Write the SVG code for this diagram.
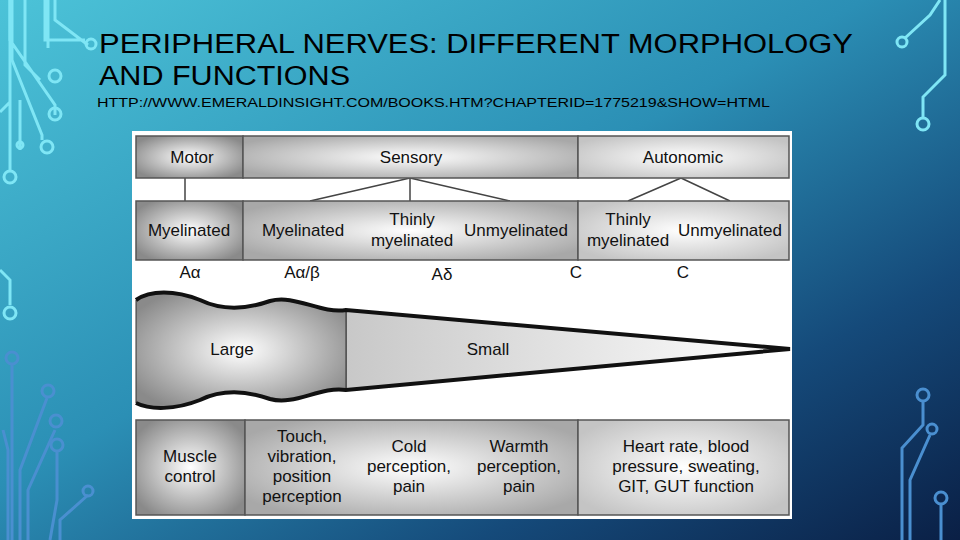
<svg xmlns="http://www.w3.org/2000/svg" width="960" height="540" viewBox="0 0 960 540">
<defs>
<linearGradient id="bg" x1="0" y1="0" x2="1" y2="1">
<stop offset="0" stop-color="#4cc3d8"/><stop offset="0.45" stop-color="#2b8fb5"/><stop offset="0.75" stop-color="#154a7a"/><stop offset="1" stop-color="#0a1f45"/>
</linearGradient>
<radialGradient id="g1" cx="0.5" cy="0.5" r="0.6"><stop offset="0" stop-color="#ffffff"/><stop offset="1" stop-color="#8a8a8a"/></radialGradient>
<radialGradient id="g2" cx="0.5" cy="0.5" r="0.6"><stop offset="0" stop-color="#ffffff"/><stop offset="1" stop-color="#a8a8a8"/></radialGradient>
<radialGradient id="g3" cx="0.5" cy="0.5" r="0.6"><stop offset="0" stop-color="#ffffff"/><stop offset="1" stop-color="#c4c4c4"/></radialGradient>
<linearGradient id="gs" x1="0" y1="0" x2="1" y2="0"><stop offset="0" stop-color="#c8c8c8"/><stop offset="1" stop-color="#ffffff"/></linearGradient>
</defs>
<style>
.t{font-family:"Liberation Sans",Arial,sans-serif;fill:#111;text-anchor:middle;font-size:17px}
.h{font-family:"Liberation Sans",Arial,sans-serif;fill:#000}
.box{stroke:#555;stroke-width:1.5}
.c{fill:none;stroke:#7fe6f5;stroke-width:3}
.d{fill:none;stroke:#4a8fd0;stroke-width:3}
.ln{stroke:#444;stroke-width:1.5;fill:none}
</style>
<rect width="960" height="540" fill="url(#bg)"/>
<g id="circuits">
<path class="c" d="M45 0 V40 L85 40 M55 0 V20 L88 45 M48 0 V48 M10 0 V40 L55 105 V115 M25 0 V65 L40 80 M20 100 V150 M12 0 V60 L42 135 V140"/>
<circle class="c" cx="91" cy="44" r="5"/><circle class="c" cx="55" cy="76" r="6"/><circle class="c" cx="55" cy="114" r="6"/><circle class="c" cx="47" cy="147" r="6"/><circle class="c" cx="20" cy="145" r="3"/><circle class="c" cx="10" cy="177" r="6"/>
<path class="c" d="M0 112 L10 102 M10 0 V170"/>
<path class="c" d="M0 270 L10 280 V305"/><circle class="c" cx="10" cy="313" r="6"/>
<path class="d" d="M12 365 V540 M3 430 L8 450 V540 M47 398 L20 470 V540 M55 430 L28 490 V540 M57 452 V500 L50 540 M88 495 L60 520 V540"/>
<circle class="d" cx="12" cy="358" r="6"/><circle class="d" cx="48" cy="391" r="6"/><circle class="d" cx="56" cy="421" r="6"/><circle class="d" cx="57" cy="445" r="6"/><circle class="d" cx="88" cy="491" r="5"/>
<path class="c" d="M940 0 L930 15 L905 38 M945 0 V75 L923 97 V118"/><circle class="c" cx="902" cy="42" r="5"/><circle class="c" cx="923" cy="124" r="6"/>
<path class="d" d="M923 402 V425 L902 448 V540 M930 435 L910 480 V540 M941 505 V540"/><circle class="d" cx="923" cy="395" r="6"/><circle class="d" cx="932" cy="429" r="5"/><circle class="d" cx="941" cy="498" r="6"/>
</g>
<g id="title">
<text class="h" x="99" y="53" font-size="27" textLength="754" lengthAdjust="spacingAndGlyphs">PERIPHERAL NERVES: DIFFERENT MORPHOLOGY</text>
<text class="h" x="99" y="85" font-size="27" textLength="251" lengthAdjust="spacingAndGlyphs">AND FUNCTIONS</text>
<text class="h" x="97" y="107" font-size="13.5" textLength="673" lengthAdjust="spacingAndGlyphs">HTTP://WWW.EMERALDINSIGHT.COM/BOOKS.HTM?CHAPTERID=1775219&amp;SHOW=HTML</text>
</g>
<rect x="132" y="131" width="660" height="388" fill="#ffffff"/>
<g id="connectors">
<path class="ln" d="M185 178 V201 M410 178 L310 201 M410 178 V201 M410 178 L510 201 M681 178 L628 201 M681 178 L730 201"/>
</g>
<g id="motor"><rect class="box" x="136" y="136" width="107" height="42" fill="url(#g1)"/><text class="t" x="192" y="163">Motor</text></g>
<g id="sensory"><rect class="box" x="243" y="136" width="335" height="42" fill="url(#g2)"/><text class="t" x="411" y="163">Sensory</text></g>
<g id="autonomic"><rect class="box" x="578" y="136" width="211" height="42" fill="url(#g3)"/><text class="t" x="683" y="163">Autonomic</text></g>
<g id="row2-motor"><rect class="box" x="136" y="201" width="107" height="59" fill="url(#g1)"/><text class="t" x="189" y="236">Myelinated</text></g>
<g id="row2-sensory"><rect class="box" x="243" y="201" width="335" height="59" fill="url(#g2)"/>
<text class="t" x="303" y="236">Myelinated</text><text class="t" x="412" y="225">Thinly</text><text class="t" x="412" y="246">myelinated</text><text class="t" x="516" y="236">Unmyelinated</text></g>
<g id="row2-autonomic"><rect class="box" x="578" y="201" width="211" height="59" fill="url(#g3)"/>
<text class="t" x="628" y="225">Thinly</text><text class="t" x="628" y="246">myelinated</text><text class="t" x="730" y="236">Unmyelinated</text></g>
<g id="fibres">
<text class="t" x="190" y="278">Aα</text><text class="t" x="302" y="278">Aα/β</text><text class="t" x="442" y="280">Aδ</text><text class="t" x="576" y="278">C</text><text class="t" x="683" y="278">C</text>
</g>
<g id="nerve">
<path d="M346 310 L790 349 L346 390 Z" fill="url(#gs)" stroke="#333" stroke-width="1"/>
<path d="M136 300 C150 290 175 290 200 300 C225 312 250 308 270 301 C295 294 320 314 346 310 V390 C320 386 295 406 270 399 C250 392 225 388 200 400 C175 410 150 410 136 403 Z" fill="url(#g1)" stroke="#333" stroke-width="1"/>
<path d="M136 300 C150 290 175 290 200 300 C225 312 250 308 270 301 C295 294 320 314 346 310 L790 349 L346 390 C320 386 295 406 270 399 C250 392 225 388 200 400 C175 410 150 410 136 403" fill="none" stroke="#111" stroke-width="4"/>
<text class="t" x="232" y="355">Large</text><text class="t" x="488" y="355">Small</text>
</g>
<g id="fn-motor"><rect class="box" x="136" y="420" width="109" height="95" fill="url(#g1)"/><text class="t" x="190" y="462">Muscle</text><text class="t" x="190" y="482">control</text></g>
<g id="fn-sensory"><rect class="box" x="245" y="420" width="333" height="95" fill="url(#g2)"/>
<text class="t" x="302" y="442">Touch,</text><text class="t" x="302" y="462">vibration,</text><text class="t" x="302" y="482">position</text><text class="t" x="302" y="502">perception</text>
<text class="t" x="409" y="452">Cold</text><text class="t" x="409" y="472">perception,</text><text class="t" x="409" y="492">pain</text>
<text class="t" x="519" y="452">Warmth</text><text class="t" x="519" y="472">perception,</text><text class="t" x="519" y="492">pain</text></g>
<g id="fn-autonomic"><rect class="box" x="578" y="420" width="211" height="95" fill="url(#g3)"/>
<text class="t" x="686" y="452">Heart rate, blood</text><text class="t" x="686" y="472">pressure, sweating,</text><text class="t" x="686" y="492">GIT, GUT function</text></g>
</svg>
